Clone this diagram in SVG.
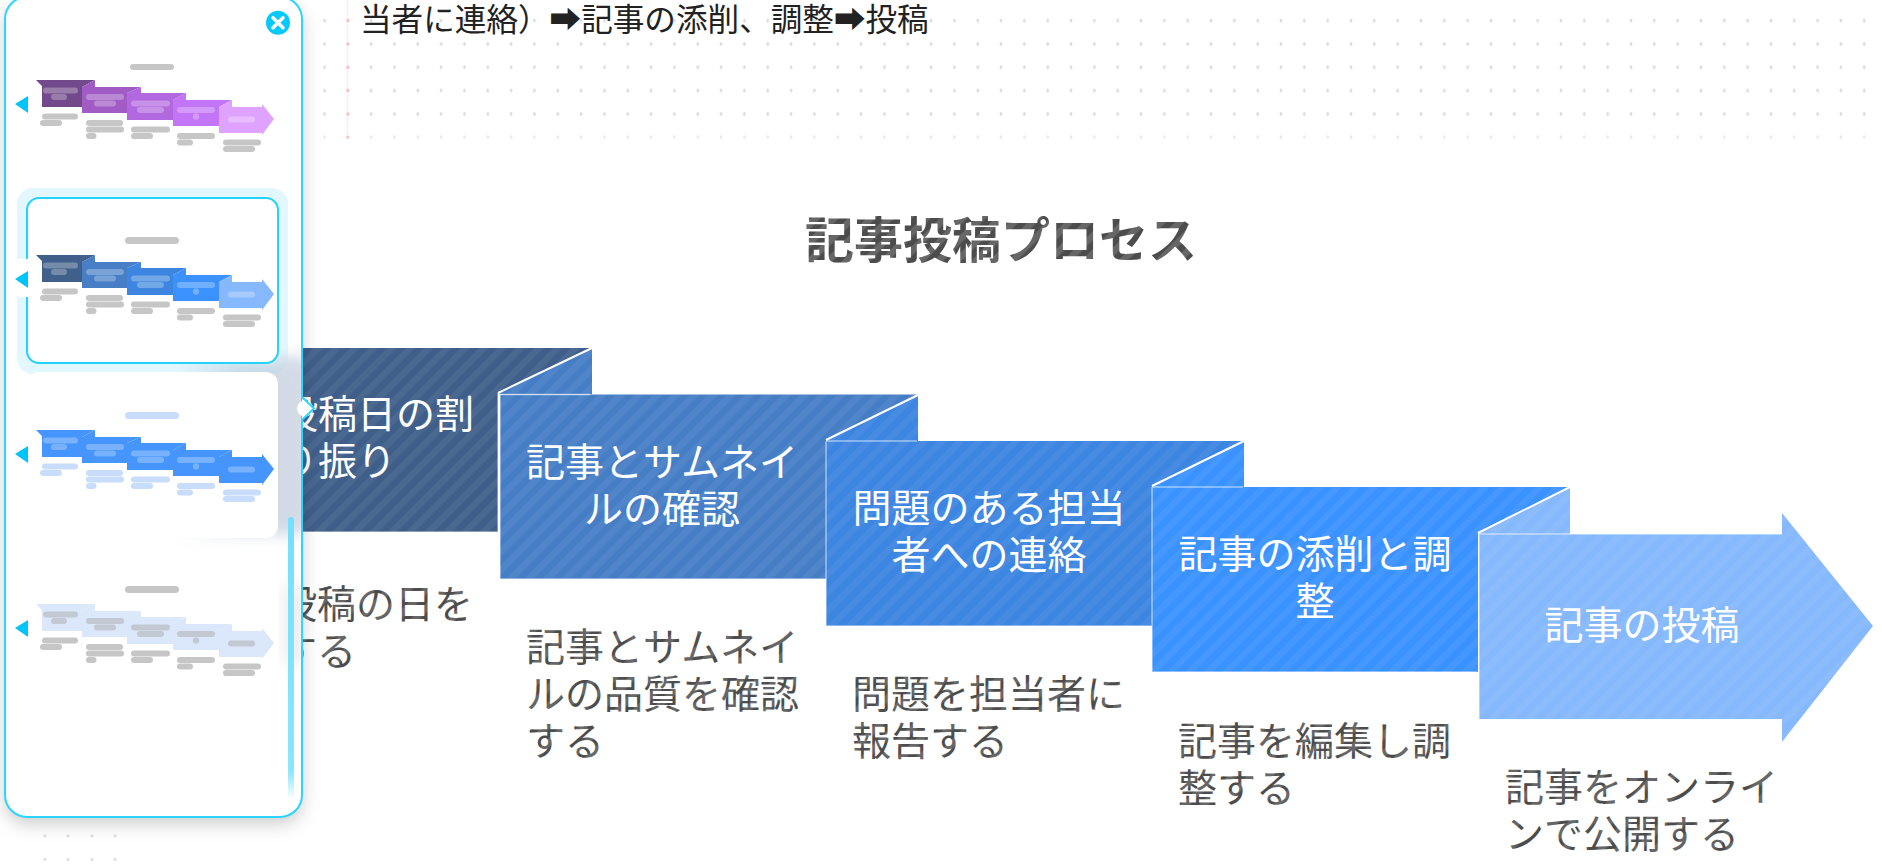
<svg xmlns="http://www.w3.org/2000/svg" width="1882" height="866" viewBox="0 0 1882 866">
<style>
text{font-family:"Noto Sans CJK JP","Noto Sans CJK SC","DejaVu Sans",sans-serif}
.lbl{font-size:39px;fill:#fff;text-anchor:middle}
.lbl0{font-size:39px;fill:#fff}
.body{font-size:39px;fill:url(#tstripe)}
.title{font-size:49px;font-weight:700;fill:url(#tstripe);text-anchor:middle}
.top{font-size:31.600px;fill:#222}
.edge{stroke:#fff;stroke-opacity:.5;stroke-width:1.5}
.fold{stroke:#fff;stroke-width:2;fill:none}
.st{fill:url(#bstripe)}
.dot{fill:#e2e2e2}
.pdot{fill:#ffbcbc}
.th1{fill:var(--c1)}.th2{fill:var(--c2)}.th3{fill:var(--c3)}.th4{fill:var(--c4)}.th5{fill:var(--c5)}
.in{fill:var(--in)}.un{fill:var(--un)}
.tri{fill:#00c5fb}
</style>
<defs>
<pattern id="bstripe" width="13" height="13" patternUnits="userSpaceOnUse" patternTransform="rotate(45)"><rect width="6.5" height="13" fill="#fff" fill-opacity=".055"/></pattern>
<pattern id="tstripe" width="13" height="13" patternUnits="userSpaceOnUse" patternTransform="rotate(45)"><rect width="13" height="13" fill="#4c4c4c"/><rect width="6.5" height="13" fill="#676767"/></pattern>
<pattern id="dots" x="9.530" y="8.930" width="23.330" height="23.330" patternUnits="userSpaceOnUse"><ellipse cx="11.670" cy="11.670" rx="1.400" ry="1.900" fill="#dcdcdc"/></pattern>
<filter id="pshadow" x="-20%" y="-10%" width="140%" height="120%"><feDropShadow dx="0" dy="7" stdDeviation="9" flood-color="#000" flood-opacity=".2"/></filter>
<filter id="blur" x="-30%" y="-30%" width="160%" height="160%"><feGaussianBlur stdDeviation="8"/></filter>
<filter id="soft" x="-10%" y="-10%" width="120%" height="120%"><feGaussianBlur stdDeviation=".7"/></filter>
<linearGradient id="scroll" x1="0" y1="0" x2="0" y2="1"><stop offset="0" stop-color="#74dfff"/><stop offset=".9" stop-color="#8be6ff"/><stop offset="1" stop-color="#8be6ff" stop-opacity="0"/></linearGradient>
<linearGradient id="shfade" x1="0" y1="0" x2="1" y2="0"><stop offset="0" stop-color="#a9b8cf" stop-opacity="0"/><stop offset=".5" stop-color="#a9b8cf" stop-opacity=".5"/><stop offset="1" stop-color="#a9b8cf" stop-opacity=".55"/></linearGradient>
<clipPath id="pclip"><rect x="5" y="-3" width="297" height="820" rx="22"/></clipPath>
<g id="thumb" filter="url(#soft)">
<path class="th1" d="M36 80H95L82 87V107H42V86Z"/>
<path class="th2" d="M82 87L95 80V87Z"/><path class="th2" d="M82 87H141L127 93V113H82Z"/>
<path class="th3" d="M127 93L141 87V93Z"/><path class="th3" d="M127 93H186L173 100V120H127Z"/>
<path class="th4" d="M173 100L186 93V100Z"/><path class="th4" d="M173 100H232L219 107V126H173Z"/>
<path class="th5" d="M219 107L232 100V107Z"/><path class="th5" d="M219 107H262V104L274 119L262 135V133H219Z"/>
<rect class="in" x="43" y="87.500" width="35" height="6" rx="3"/><rect class="in" x="51" y="94" width="16" height="6" rx="3"/>
<rect class="in" x="86" y="94" width="38" height="6" rx="3"/><rect class="in" x="94" y="100.500" width="22" height="6" rx="3"/>
<rect class="in" x="131" y="100.500" width="39" height="6" rx="3"/><rect class="in" x="137" y="107" width="27" height="6" rx="3"/>
<rect class="in" x="177" y="107" width="38" height="6" rx="3"/><circle class="in" cx="196" cy="116.500" r="3.200"/>
<rect class="in" x="228" y="116.500" width="27" height="6" rx="3"/>
<rect class="un" x="42" y="113.500" width="36" height="6" rx="3"/><rect class="un" x="40" y="120" width="22" height="6" rx="3"/>
<rect class="un" x="86" y="120" width="37" height="6" rx="3"/><rect class="un" x="86" y="126.500" width="38" height="6" rx="3"/><rect class="un" x="86" y="133" width="10.500" height="6" rx="3"/>
<rect class="un" x="131" y="126.500" width="39" height="6" rx="3"/><rect class="un" x="131" y="133" width="22" height="6" rx="3"/>
<rect class="un" x="177" y="133" width="38" height="6" rx="3"/><rect class="un" x="177" y="139.500" width="16" height="6" rx="3"/>
<rect class="un" x="223" y="139.500" width="38" height="6" rx="3"/><rect class="un" x="223" y="146" width="32" height="6" rx="3"/>
</g>
</defs>

<rect width="1882" height="866" fill="#fff"/>
<g id="background-dots">
<rect x="302" y="8.930" width="1580" height="116.660" fill="url(#dots)"/>
<g opacity=".6"><rect x="302" y="125.590" width="1580" height="23.330" fill="url(#dots)"/></g>
<line x1="347.800" y1="0" x2="347.800" y2="137" stroke="#ffe6e6" stroke-width="1"/>
<circle class="pdot" cx="347.800" cy="20.600" r="1.500"/><circle class="pdot" cx="347.800" cy="44" r="1.500"/><circle class="pdot" cx="347.800" cy="67.300" r="1.500"/><circle class="pdot" cx="347.800" cy="90.600" r="1.500"/><circle class="pdot" cx="347.800" cy="114" r="1.500"/><circle class="pdot" cx="347.800" cy="137" r="1.500"/>
<circle class="dot" cx="45" cy="836" r="1.700"/><circle class="dot" cx="68" cy="836" r="1.700"/><circle class="dot" cx="92" cy="836" r="1.700"/><circle class="dot" cx="115" cy="836" r="1.700"/>
<circle class="dot" cx="45" cy="859.500" r="1.700"/><circle class="dot" cx="68" cy="859.500" r="1.700"/><circle class="dot" cx="92" cy="859.500" r="1.700"/><circle class="dot" cx="115" cy="859.500" r="1.700"/>
</g>
<text id="top-line" class="top" x="360" y="31">当者に連絡）➡記事の添削、調整➡投稿</text>
<text id="title" class="title" x="1001" y="258">記事投稿プロセス</text>

<g id="step-1">
<path d="M173 348H592L498 393V532H173Z" fill="#3f5f8a"/>
<path class="st" d="M173 348H592L498 393V532H173Z"/>
<path class="edge" fill="none" d="M498 393V532H173"/>
<text class="lbl0" x="279" y="428">投稿日の割</text>
<text class="lbl0" x="279" y="475">り振り</text>
<text class="body" x="278" y="618">投稿の日を</text>
<text class="body" x="278" y="665">する</text>
</g>
<g id="step-2">
<path d="M498 393L592 348V394H500Z" fill="#467ec6"/><path class="st" d="M498 393L592 348V394H500Z"/>
<path d="M500 394.500H918L826 440V579H500Z" fill="#467ec6"/><path class="st" d="M500 394.500H918L826 440V579H500Z"/>
<path class="edge" fill="none" d="M500 394.500H590M500 394.500V579H825"/>
<path class="fold" d="M498 393L592 348"/>
<text class="lbl" x="662" y="476">記事とサムネイ</text>
<text class="lbl" x="662" y="523">ルの確認</text>
<text class="body" x="526" y="661">記事とサムネイ</text>
<text class="body" x="526" y="708">ルの品質を確認</text>
<text class="body" x="526" y="755">する</text>
</g>
<g id="step-3">
<path d="M826 440L918 395V441H826Z" fill="#3c85e0"/><path class="st" d="M826 440L918 395V441H826Z"/>
<path d="M826 441H1244L1152 486V626H826Z" fill="#3c85e0"/><path class="st" d="M826 441H1244L1152 486V626H826Z"/>
<path class="edge" fill="none" d="M826 441H917M826 441V626H1151"/>
<path class="fold" d="M826 440L918 395"/>
<text class="lbl" x="989" y="522">問題のある担当</text>
<text class="lbl" x="989" y="569">者への連絡</text>
<text class="body" x="852" y="708">問題を担当者に</text>
<text class="body" x="852" y="755">報告する</text>
</g>
<g id="step-4">
<path d="M1152 486L1244 441V487H1152Z" fill="#3a92ff"/><path class="st" d="M1152 486L1244 441V487H1152Z"/>
<path d="M1152 487H1570L1478 533V672H1152Z" fill="#3a92ff"/><path class="st" d="M1152 487H1570L1478 533V672H1152Z"/>
<path class="edge" fill="none" d="M1152 487H1243M1152 487V672H1477"/>
<path class="fold" d="M1152 486L1244 441"/>
<text class="lbl" x="1315" y="568">記事の添削と調</text>
<text class="lbl" x="1315" y="615">整</text>
<text class="body" x="1178" y="755">記事を編集し調</text>
<text class="body" x="1178" y="802">整する</text>
</g>
<g id="step-5">
<path d="M1478 533L1570 487V534H1479Z" fill="#85b8fc"/><path class="st" d="M1478 533L1570 487V534H1479Z"/>
<path d="M1479 534H1782V513L1873 626L1782 742V719H1479Z" fill="#85b8fc"/><path class="st" d="M1479 534H1782V513L1873 626L1782 742V719H1479Z"/>
<path class="edge" fill="none" d="M1479 534H1782M1479 534V719"/>
<path class="fold" d="M1478 533L1570 487"/>
<text class="lbl" x="1642" y="639">記事の投稿</text>
<text class="body" x="1505" y="801">記事をオンライ</text>
<text class="body" x="1505" y="848">ンで公開する</text>
</g>

<g id="template-panel">
<rect x="5" y="-3" width="297" height="820" rx="22" fill="#fff" filter="url(#pshadow)"/>
<g clip-path="url(#pclip)">
<rect x="17" y="188" width="271" height="186" rx="16" fill="#e3f7fe"/>
<rect x="175" y="362" width="125" height="172" fill="url(#shfade)" filter="url(#blur)"/>
<rect x="282" y="358" width="28" height="170" fill="#d3dae6" filter="url(#blur)"/>
<rect x="284" y="585" width="20" height="80" fill="#ececec" filter="url(#blur)"/>
</g>
<g id="thumb-purple" style="--c1:#724a8a;--c2:#a05cc4;--c3:#b267de;--c4:#c374f8;--c5:#dfa3ff;--in:rgba(255,255,255,.28);--un:#c6c6c6">
<rect x="130" y="64" width="44" height="6" rx="3" fill="#c6c6c6" filter="url(#soft)"/>
<use href="#thumb"/>
<path class="tri" d="M15 104L28 96V113Z"/>
</g>
<g id="thumb-blue" transform="translate(0 175)" style="--c1:#3f5f8a;--c2:#467ec6;--c3:#3c85e0;--c4:#3a92ff;--c5:#85b8fc;--in:rgba(255,255,255,.28);--un:#c6c6c6">
<rect x="27" y="23" width="251" height="165" rx="12" fill="#fff" stroke="#22d3fb" stroke-width="2"/>
<rect x="15" y="84" width="15" height="38" fill="#fff"/>
<rect x="125" y="62" width="54" height="7" rx="3.500" fill="#c6c6c6" filter="url(#soft)"/>
<use href="#thumb"/>
<path class="tri" d="M15 104L28 96V113Z"/>
</g>
<g id="thumb-solid" transform="translate(0 350)" style="--c1:#4495fc;--c2:#4495fc;--c3:#4495fc;--c4:#4495fc;--c5:#4495fc;--in:rgba(255,255,255,.28);--un:#c8dcfb">
<rect x="27" y="22" width="251" height="166" rx="12" fill="#fff"/>
<rect x="125" y="62" width="54" height="7" rx="3.500" fill="#c8dcfb" filter="url(#soft)"/>
<use href="#thumb"/>
<path class="tri" d="M15 104L28 96V113Z"/>
</g>
<g id="thumb-pale" transform="translate(0 524)" style="--c1:#dbe8fb;--c2:#dbe8fb;--c3:#dbe8fb;--c4:#dbe8fb;--c5:#dbe8fb;--in:#c3c9d2;--un:#c6c6c6">
<rect x="125" y="62" width="54" height="7" rx="3.500" fill="#c6c6c6" filter="url(#soft)"/>
<use href="#thumb"/>
<path class="tri" d="M15 104L28 96V113Z"/>
</g>
<rect id="scrollbar" x="288" y="517" width="6" height="283" rx="3" fill="url(#scroll)"/>
<rect x="5" y="-3" width="297" height="820" rx="22" fill="none" stroke="#2bd5ff" stroke-width="2"/>
<g id="close-button">
<circle cx="278" cy="22.700" r="12" fill="#05c8fb"/>
<path d="M273 17.700L283 27.700M283 17.700L273 27.700" stroke="#fff" stroke-width="3.500" stroke-linecap="round"/>
</g>
<g id="panel-pointer">
<circle cx="305" cy="408.500" r="8" fill="#fff"/>
<path d="M302 397L314 408.500L302 420Z" fill="#fff"/>
<path d="M302 397L314 408.500L302 420" fill="none" stroke="#2bd5ff" stroke-width="2"/>
</g>
</g>
</svg>
